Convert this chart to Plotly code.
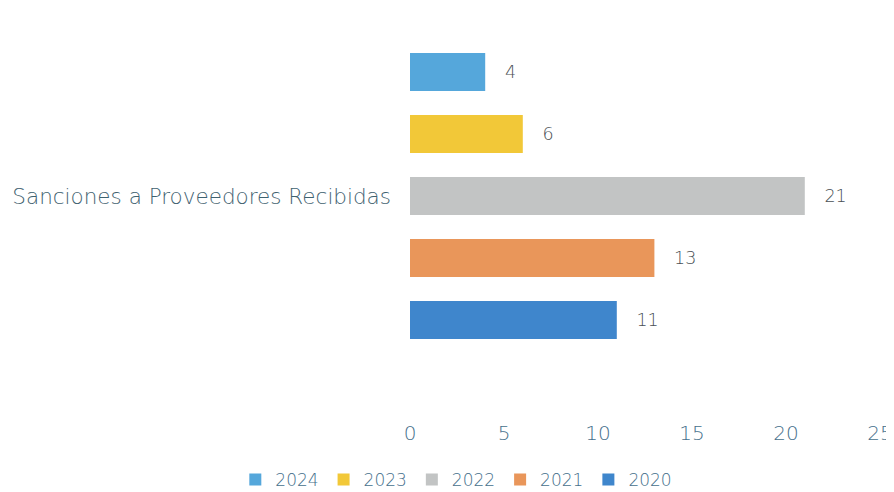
import plotly.graph_objects as go

category = ["Sanciones a Proveedores Recibidas"]
years = ["2020", "2021", "2022", "2023", "2024"]
values = [11, 13, 21, 6, 4]
colors = ["#3f86cc", "#e9965a", "#c2c4c4", "#f2c838", "#55a7db"]

NBSP = "\u00a0"
FONT = "DejaVu Sans"

fig = go.Figure()
for yr, v, c in zip(years, values, colors):
    fig.add_trace(go.Bar(
        y=category, x=[v], name=yr, orientation="h",
        marker=dict(color=c, line=dict(width=0)),
        text=[NBSP * 3 + str(v)], textposition="outside",
        textfont=dict(color="#4a5055", size=17.5, family=FONT, weight=300),
        cliponaxis=False,
    ))

fig.update_layout(
    width=886, height=484,
    paper_bgcolor="white", plot_bgcolor="white",
    barmode="group", bargap=0.176, bargroupgap=0.387,
    margin=dict(l=402, r=14, t=0, b=108),
    font=dict(family=FONT, color="#3f6270", weight=300),
    xaxis=dict(range=[0, 25], dtick=5, showgrid=False, zeroline=False,
               showline=False, ticks="", ticklabelstandoff=35,
               tickfont=dict(size=20, color="#46708c", family=FONT, weight=300)),
    yaxis=dict(showgrid=False, zeroline=False, showline=False, ticks="",
               ticklabelstandoff=18,
               tickfont=dict(size=21.5, color="#3f6270", family=FONT, weight=300)),
    legend=dict(orientation="h", x=0.506, xref="container", xanchor="center",
                y=0.025, yref="container", yanchor="middle",
                traceorder="reversed",
                font=dict(size=17, color="#46708c", family=FONT, weight=300),
                itemwidth=30),
    showlegend=True,
)
fig.write_html("out.html")
